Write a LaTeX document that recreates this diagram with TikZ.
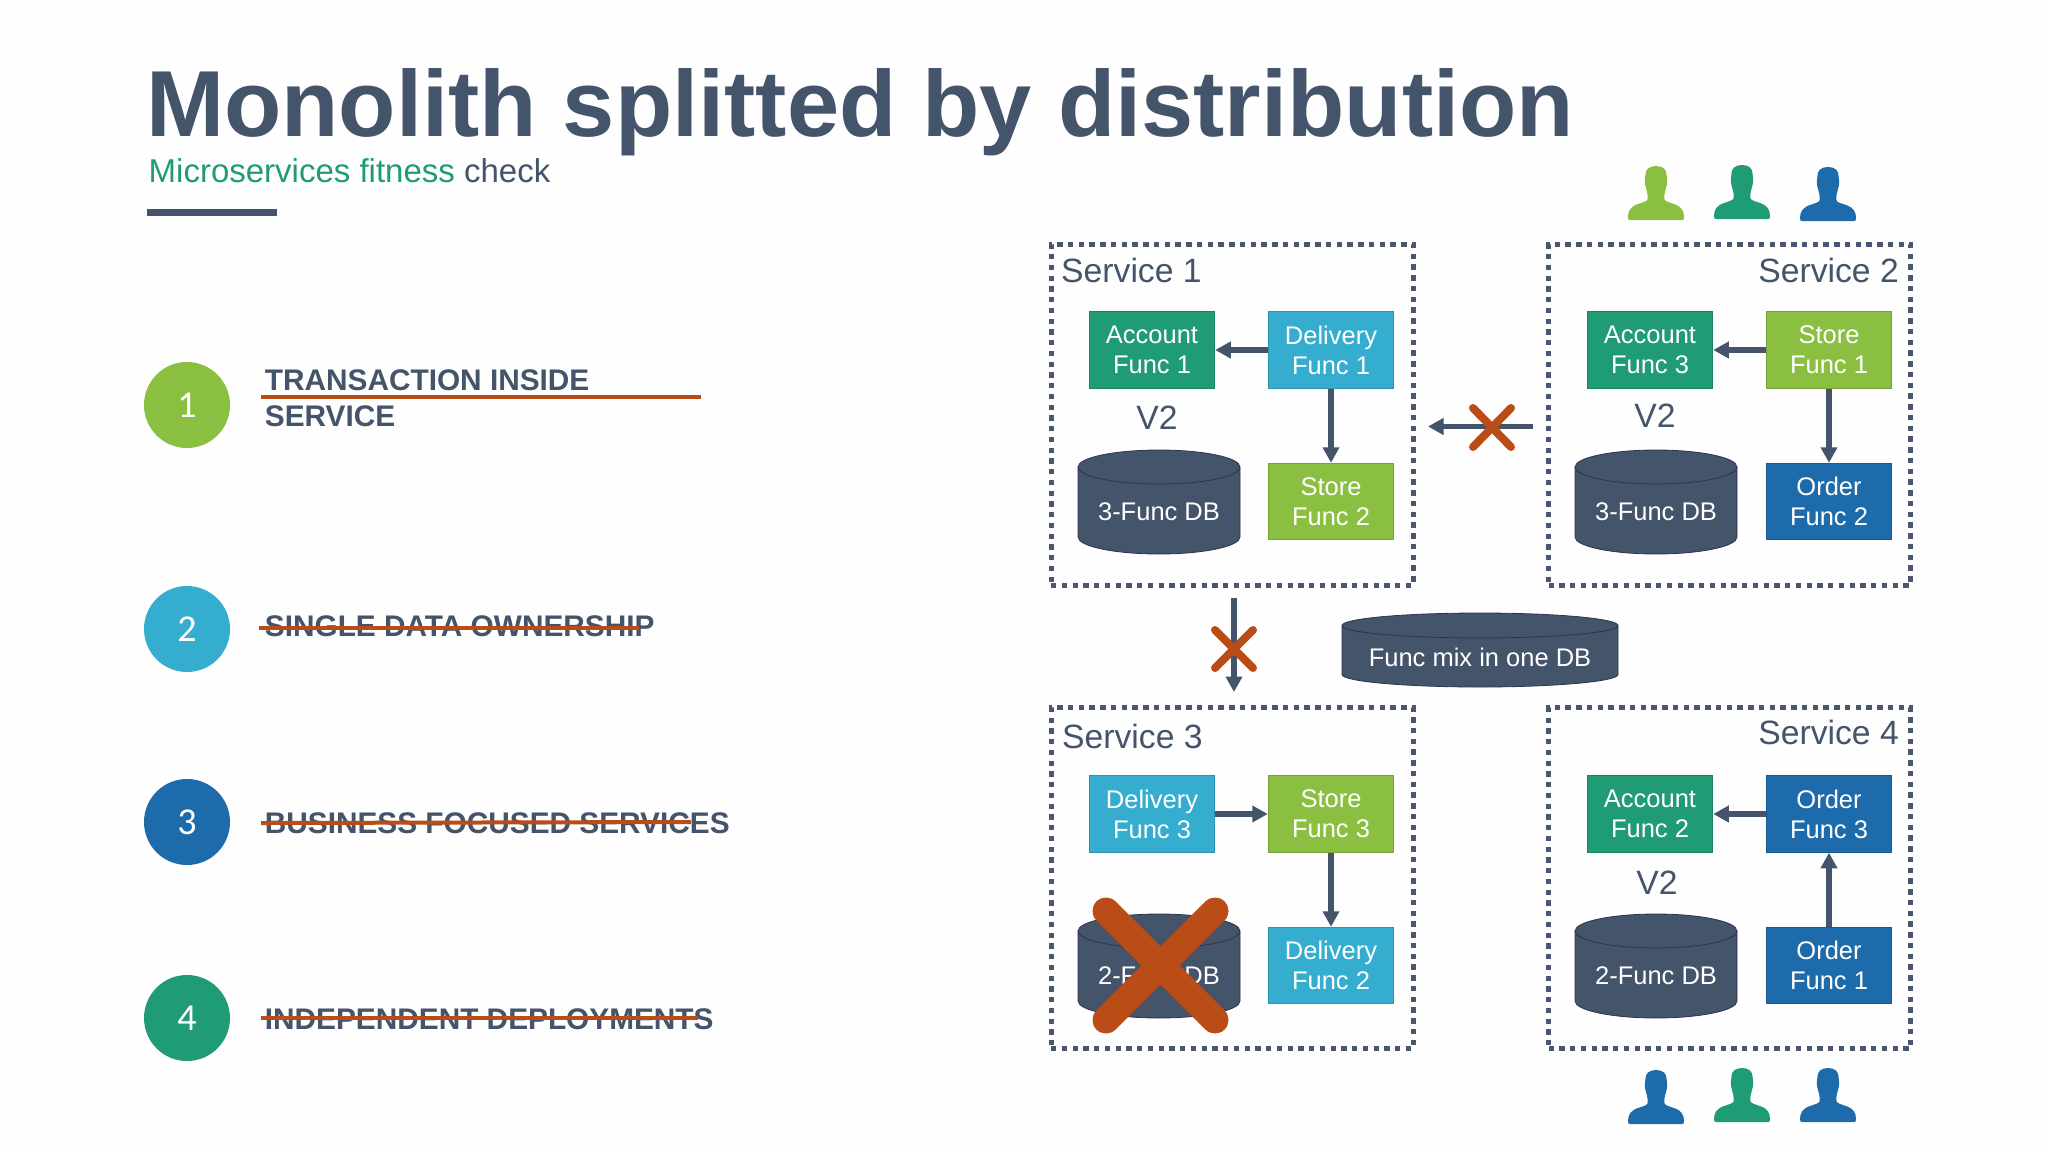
\documentclass[tikz,border=0pt]{standalone}
\usepackage{fontspec}
\setmainfont{Liberation Sans}
\newfontfamily\numfont{Carlito}
\usetikzlibrary{arrows.meta}
\definecolor{slate}{HTML}{44546A}
\definecolor{framec}{HTML}{4A5570}
\definecolor{leaf}{HTML}{8BBF41}
\definecolor{teal2}{HTML}{1F9C76}
\definecolor{sky}{HTML}{35ADCF}
\definecolor{deep}{HTML}{1D6BAA}
\definecolor{rust}{HTML}{BA4C18}
\definecolor{dbedge}{HTML}{2A3648}
\definecolor{paper}{HTML}{FEFEFE}
\newcommand{\fs}[1]{\fontsize{#1}{#1}\selectfont}
% cx, rx, y of top ellipse centre, y of bottom ellipse centre, ry
\newcommand{\dbshape}[5]{%
  \draw[fill=slate,draw=dbedge,line width=0.8pt]
    ({#1-#2},#3) -- ({#1-#2},#4)
    .. controls ({#1-#2},{#4+0.55*#5}) and ({#1-0.55*#2},{#4+#5}) .. (#1,{#4+#5})
    .. controls ({#1+0.55*#2},{#4+#5}) and ({#1+#2},{#4+0.55*#5}) .. ({#1+#2},#4)
    -- ({#1+#2},#3);
  \draw[fill=slate,draw=dbedge,line width=0.8pt] (#1,#3) ellipse [x radius=#2,y radius=#5];%
}
% person: x centre, y top, colour
\newcommand{\person}[3]{%
  \begin{scope}[shift={(#1,#2)}]
  \fill[#3] (0,0)
    .. controls (7,0) and (10.6,3.5) .. (10.6,9)
    -- (11.2,15) .. controls (11.2,18) and (10.6,20) .. (10,22)
    .. controls (9.4,25) and (8.4,27) .. (8.4,29)
    -- (8.4,33) .. controls (8.4,35) and (12,36) .. (18,38)
    .. controls (25.5,40.5) and (28,45) .. (28,51)
    .. controls (28,53.5) and (27.5,54) .. (26,54)
    -- (-26,54)
    .. controls (-27.5,54) and (-28,53.5) .. (-28,51)
    .. controls (-28,45) and (-25.5,40.5) .. (-18,38)
    .. controls (-12,36) and (-8.4,35) .. (-8.4,33)
    -- (-8.4,29) .. controls (-8.4,27) and (-9.4,25) .. (-10,22)
    .. controls (-10.6,20) and (-11.2,18) .. (-11.2,15)
    -- (-10.6,9) .. controls (-10.6,3.5) and (-7,0) .. (0,0) -- cycle;
  \end{scope}%
}
\tikzset{
  x=1pt,y=-1pt,
  funcbox/.style={minimum width=125.5pt,minimum height=76.5pt,inner sep=0pt,draw=#1!85!black,fill=#1,line width=1pt,
    text=white,align=center,font=\fontsize{25.5}{30.2}\selectfont},
  frame/.style={draw=framec,line width=5pt,dash pattern=on 5.3pt off 5.45pt,minimum width=362pt,minimum height=341pt,inner sep=0pt},
  svc/.style={text=slate,inner sep=0pt,font=\fs{33.7}},
  vtwo/.style={text=slate,inner sep=0pt,font=\fs{33.7}},
  dbtext/.style={text=white,inner sep=0pt,font=\fs{25.5}},
  flow/.style={draw=slate,line width=5.4pt,-{Triangle[length=15.5pt,width=16pt]}},
  smallx/.style={draw=rust,line width=8pt,line cap=round},
  bigx/.style={draw=rust,line width=27pt,line cap=round},
  strike/.style={draw=rust,line width=4pt},
  badge/.style={circle,minimum size=86pt,inner sep=0pt,text=white,font=\numfont\fs{38}},
  item/.style={text=slate,inner sep=0pt,anchor=base west,font=\bfseries\fs{29.8}},
}
\begin{document}
\begin{tikzpicture}
\useasboundingbox (0,0) rectangle (2048,1152);
\fill[paper] (0,0) rectangle (2048,1152);

% title block
\node[anchor=base west,inner sep=0pt,text=slate,font=\bfseries\fs{93.8}] (title) at (146,136) {Monolith splitted by distribution};
\node[anchor=base west,inner sep=0pt,font=\fs{33}] (subtitle) at (148.5,182) {\textcolor{teal2}{Microservices fitness} \textcolor{slate}{check}};
\fill[slate] (147,208.5) rectangle (277,215.5);

% left list
\node[badge,fill=leaf] (b1) at (187,405) {1};
\node[badge,fill=sky] (b2) at (187,629) {2};
\node[badge,fill=deep] (b3) at (187,822) {3};
\node[badge,fill=teal2] (b4) at (187,1018) {4};
\node[item] (t1a) at (264.7,390) {TRANSACTION INSIDE};
\node[item] (t1b) at (264.7,426) {SERVICE};
\node[item] (t2) at (264.7,636) {SINGLE DATA OWNERSHIP};
\node[item] (t3) at (264.7,833) {BUSINESS FOCUSED SERVICES};
\node[item] (t4) at (264.7,1029) {INDEPENDENT DEPLOYMENTS};
\draw[strike] (261,397) -- (701,397);
\draw[strike] (259,628) -- (639,628);
\draw[strike] (261,823) -- (691,822);
\draw[strike] (261,1018) -- (698,1018);

% frames
\node[frame] (s1) at (1232,414.5) {};
\node[frame] (s2) at (1729.5,414.5) {};
\node[frame] (s3) at (1232,878) {};
\node[frame] (s4) at (1729.5,878) {};
\node[svc,anchor=base west] (s1t) at (1061,282) {Service 1};
\node[svc,anchor=base east] (s2t) at (1899,282) {Service 2};
\node[svc,anchor=base west] (s3t) at (1062,748) {Service 3};
\node[svc,anchor=base east] (s4t) at (1899,744) {Service 4};

% databases
\dbshape{1159}{81}{467}{537}{17}
\dbshape{1656}{81}{467}{537}{17}
\dbshape{1159}{81}{931}{1001}{17}
\dbshape{1656}{81}{931}{1001}{17}
\dbshape{1480}{138}{625.5}{674.5}{12.5}
\node[dbtext] (db1) at (1159,512) {3-Func DB};
\node[dbtext] (db2) at (1656,512) {3-Func DB};
\node[dbtext] (db3) at (1159,976) {2-Func DB};
\node[dbtext] (db4) at (1656,976) {2-Func DB};
\node[dbtext] (dbm) at (1480,657) {Func mix in one DB};

\node[vtwo] (v1) at (1157,418) {V2};
\node[vtwo] (v2) at (1655,416) {V2};
\node[vtwo] (v4) at (1657,883) {V2};

% function boxes
\node[funcbox=teal2] (a1) at (1152,350) {Account\\Func 1};
\node[funcbox=sky] (d1) at (1331,350) {Delivery\\Func 1};
\node[funcbox=leaf] (st2) at (1331,501.5) {Store\\Func 2};
\node[funcbox=teal2] (a3) at (1650,350) {Account\\Func 3};
\node[funcbox=leaf] (st1) at (1829,350) {Store\\Func 1};
\node[funcbox=deep] (o2) at (1829,501.5) {Order\\Func 2};
\node[funcbox=sky] (d3) at (1152,814) {Delivery\\Func 3};
\node[funcbox=leaf] (st3) at (1331,814) {Store\\Func 3};
\node[funcbox=sky] (d2) at (1331,965.5) {Delivery\\Func 2};
\node[funcbox=teal2] (a2) at (1650,814) {Account\\Func 2};
\node[funcbox=deep] (o3) at (1829,814) {Order\\Func 3};
\node[funcbox=deep] (o1) at (1829,965.5) {Order\\Func 1};

% connectors
\draw[flow] (d1) -- (a1);
\draw[flow] (d1) -- (st2);
\draw[flow] (st1) -- (a3);
\draw[flow] (st1) -- (o2);
\draw[flow] (d3) -- (st3);
\draw[flow] (st3) -- (d2);
\draw[flow] (o3) -- (a2);
\draw[flow] (o1) -- (o3);

\coordinate (h0) at (1533,426.5);
\coordinate (h1) at (1428,426.5);
\coordinate (v0a) at (1234,598);
\coordinate (v1a) at (1234,692);
\draw[flow] (h0) -- (h1);
\draw[flow] (v0a) -- (v1a);
\draw[smallx] (1473,408) -- (1511,447) (1511,408) -- (1473,447);
\draw[smallx] (1215,630) -- (1253,668) (1253,630) -- (1215,668);
\draw[bigx] (1106,911) -- (1215,1020) (1215,911) -- (1106,1020);

% people
\person{1656}{166}{leaf}
\person{1742}{165}{teal2}
\person{1828}{167}{deep}
\person{1656}{1070}{deep}
\person{1742}{1068}{teal2}
\person{1828}{1068}{deep}
\end{tikzpicture}
\end{document}
